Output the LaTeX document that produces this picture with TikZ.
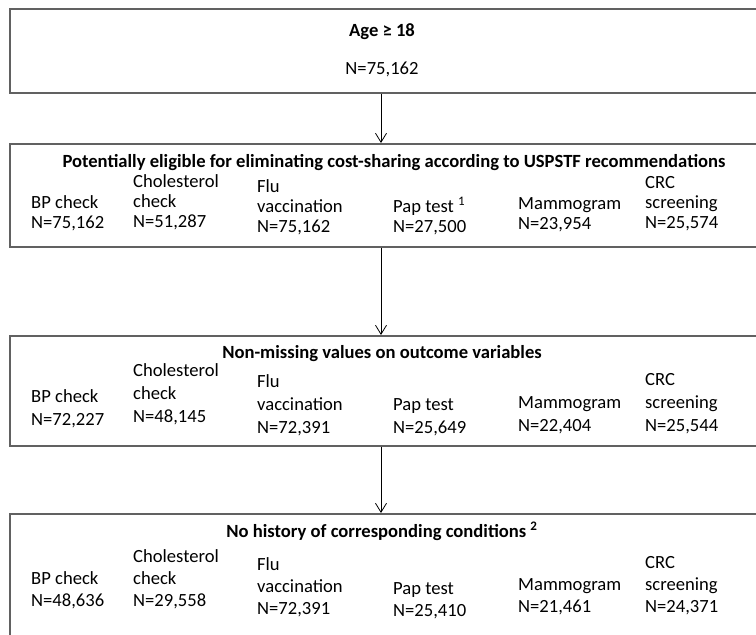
\documentclass[tikz,border=0pt]{standalone}
\usepackage{fontspec}
\setmainfont{Carlito}
\usetikzlibrary{arrows.meta}

\tikzset{
  stagebox/.style={draw=black!62, line width=1.6pt, anchor=north west, minimum width=775pt, inner sep=0pt},
  stagetitle/.style={font=\fontsize{18.6}{20}\selectfont\bfseries, anchor=base, inner sep=0pt},
  stagecount/.style={anchor=base, inner sep=0pt},
  countcol/.style={anchor=base west, align=left, inner sep=0pt, font=\fontsize{18.6}{20}\selectfont},
  widecol/.style={countcol, font=\fontsize{18.6}{23}\selectfont},
  midcol/.style={countcol, font=\fontsize{18.6}{22}\selectfont},
  flowarrow/.style={-{Straight Barb[length=9pt,width=11pt]}, line width=0.8pt},
}

\begin{document}
\begin{tikzpicture}[x=1pt,y=-1pt,font=\fontsize{18.6}{20}\selectfont]
\useasboundingbox (0,0) rectangle (756,635);
\clip (0,0) rectangle (756,635);

% boxes
\node[stagebox, minimum height=84pt] (age) at (9,8) {};
\node[stagebox, minimum height=103pt] (elig) at (9,143) {};
\node[stagebox, minimum height=110pt] (nonmiss) at (9,335) {};
\node[stagebox, minimum height=140pt] (nohist) at (9,513) {};
\coordinate (mid) at (381,0);

% age
\node[stagetitle] (ageT) at (382,36) {Age ≥ 18};
\node[stagecount] (ageN) at (382,74) {N=75,162};

% eligible
\node[stagetitle] (eligT) at (394,167) {Potentially eligible for eliminating cost-sharing according to USPSTF recommendations};
\node[countcol] (eligBP) at (31,228) {BP check\\N=75,162};
\node[countcol] (eligChol) at (133,227) {Cholesterol\\check\\N=51,287};
\node[countcol] (eligFlu) at (257,232) {Flu\\vaccination\\N=75,162};
\node[countcol] (eligPap) at (393,232) {Pap test \textsuperscript{1}\\N=27,500};
\node[countcol] (eligMam) at (518,229) {Mammogram\\N=23,954};
\node[countcol] (eligCRC) at (645,228) {CRC\\screening\\N=25,574};

% non-missing
\node[stagetitle] (nonmissT) at (382,358) {Non-missing values on outcome variables};
\node[widecol] (nonmissBP) at (31,425) {BP check\\N=72,227};
\node[widecol] (nonmissChol) at (133,422) {Cholesterol\\check\\N=48,145};
\node[widecol] (nonmissFlu) at (257,433) {Flu\\vaccination\\N=72,391};
\node[widecol] (nonmissPap) at (393,433) {Pap test\\N=25,649};
\node[widecol] (nonmissMam) at (518,431) {Mammogram\\N=22,404};
\node[widecol] (nonmissCRC) at (645,431) {CRC\\screening\\N=25,544};

% no history
\node[stagetitle] (nohistT) at (382,537) {No history of corresponding conditions \textsuperscript{2}};
\node[midcol] (nohistBP) at (31,606) {BP check\\N=48,636};
\node[midcol] (nohistChol) at (133,606) {Cholesterol\\check\\N=29,558};
\node[midcol] (nohistFlu) at (257,614) {Flu\\vaccination\\N=72,391};
\node[midcol] (nohistPap) at (393,616) {Pap test\\N=25,410};
\node[midcol] (nohistMam) at (518,612) {Mammogram\\N=21,461};
\node[midcol] (nohistCRC) at (645,612) {CRC\\screening\\N=24,371};

% arrows
\draw[flowarrow] (age.south -| mid) -- (elig.north -| mid);
\draw[flowarrow] (elig.south -| mid) -- (nonmiss.north -| mid);
\draw[flowarrow] (nonmiss.south -| mid) -- (nohist.north -| mid);
\end{tikzpicture}
\end{document}
